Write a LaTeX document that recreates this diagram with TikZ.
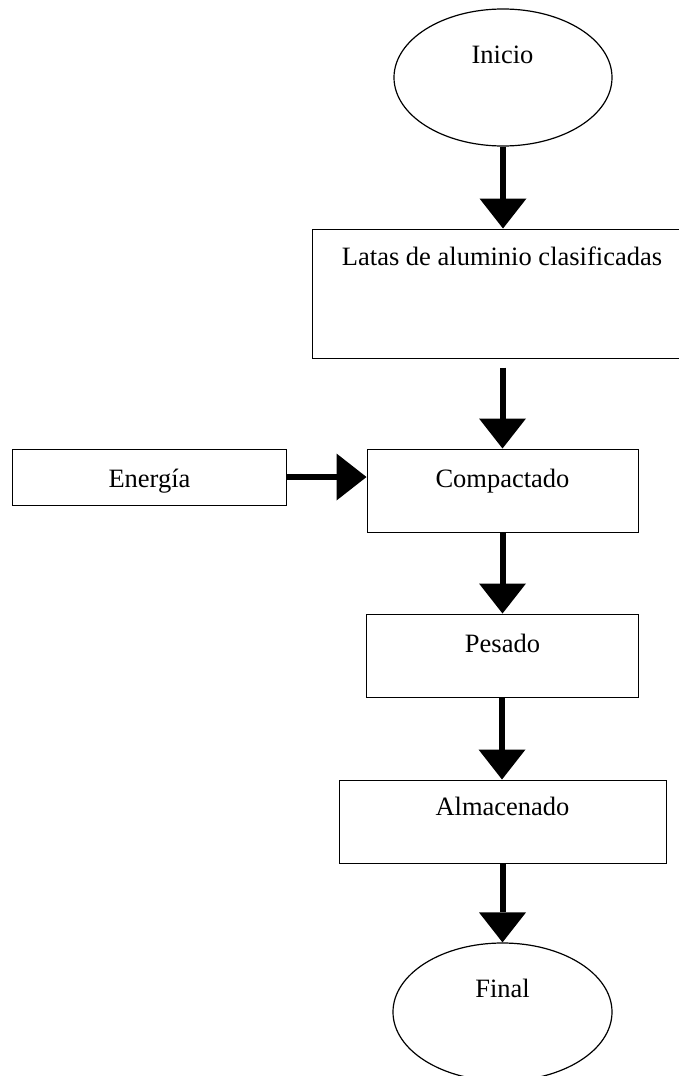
\documentclass[tikz,border=0pt]{standalone}
\usepackage{fontspec}
\setmainfont{Liberation Serif}
\usetikzlibrary{arrows.meta,shapes.geometric}
\tikzset{
  box/.style={draw, line width=1bp, rectangle, inner sep=0pt},
  oval/.style={draw, line width=1.2bp, ellipse, inner sep=0pt},
  lbl/.style={anchor=base, inner sep=0pt, font=\fontsize{26.5bp}{32bp}\selectfont},
  flow/.style={line width=6bp, -{Triangle[length=30bp,width=47bp,line width=0pt]}}
}
\begin{document}
\begin{tikzpicture}[x=1bp,y=-1bp]
\clip (0,0) rectangle (679,1076);
\fill[white] (0,0) rectangle (679,1076);
% shapes
\node[oval, minimum width=218bp, minimum height=137bp] (inicio) at (503,77.5) {};
\node[box, minimum width=380bp, minimum height=129bp] (latas) at (502,293.5) {};
\node[box, minimum width=273bp, minimum height=56bp] (energia) at (149.5,477) {};
\node[box, minimum width=271bp, minimum height=83bp] (compactado) at (502.5,490.5) {};
\node[box, minimum width=272bp, minimum height=83bp] (pesado) at (502,655.5) {};
\node[box, minimum width=327bp, minimum height=83bp] (almacenado) at (502.5,821.5) {};
\node[oval, minimum width=219bp, minimum height=138bp] (final) at (502.5,1012) {};
% labels
\node[lbl] (tInicio) at (502.5,63) {Inicio};
\node[lbl] (tLatas) at (502,265) {Latas de aluminio clasificadas};
\node[lbl] (tEnergia) at (149.5,487) {Energía};
\node[lbl] (tCompactado) at (502.5,487) {Compactado};
\node[lbl] (tPesado) at (502.5,652) {Pesado};
\node[lbl] (tAlmacenado) at (502.5,815) {Almacenado};
\node[lbl] (tFinal) at (502.5,997) {Final};
% connectors
\draw[flow] (inicio.south) -- (inicio.south |- latas.north);
\draw[flow, shorten <=9bp] (latas.south -| compactado.north) -- (compactado.north);
\draw[flow] (energia.east) -- (energia.east -| compactado.west);
\draw[flow] (compactado.south) -- (compactado.south |- pesado.north);
\draw[flow] (pesado.south) -- (pesado.south |- almacenado.north);
\draw[flow] (almacenado.south) -- (almacenado.south |- final.north);
\end{tikzpicture}
\end{document}
